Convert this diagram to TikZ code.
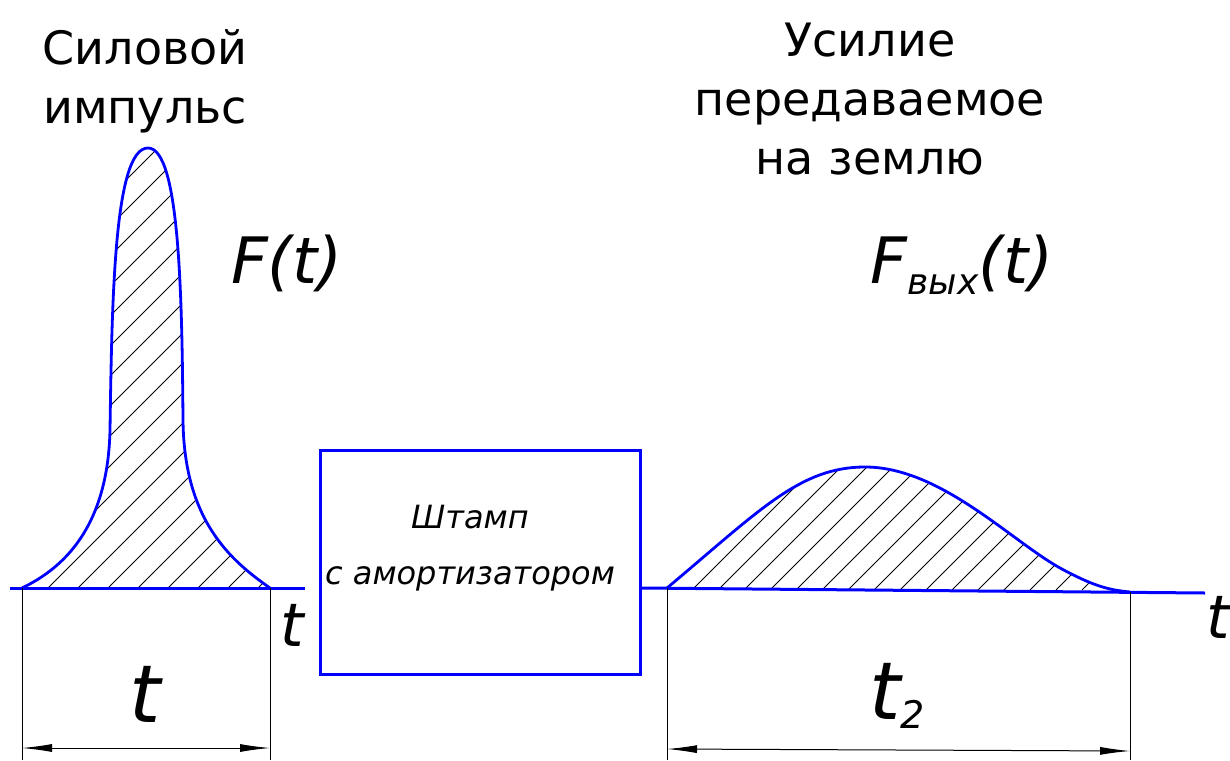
\documentclass[tikz,border=0pt]{standalone}
\usepackage{fontspec}
\setmainfont{DejaVu Sans}
\usetikzlibrary{arrows.meta}

\begin{document}
\begin{tikzpicture}[
  x=0.5pt, y=-0.5pt,
  axisln/.style={draw=blue, line width=1.5pt},
  curve/.style={draw=blue, line width=1.4pt},
  hatch/.style={black, line width=0.4pt},
  extln/.style={black, line width=0.5pt},
  dim/.style={black, line width=0.5pt, {Latex[length=15pt,width=4pt]}-{Latex[length=15pt,width=4pt]}},
  title/.style={font=\fontsize{23}{29.5}\selectfont, align=center, inner sep=0pt},
  var/.style={font=\itshape\fontsize{32}{32}\selectfont, inner sep=0pt},
  tlab/.style={font=\itshape\fontsize{30}{30}\selectfont, inner sep=0pt},
  boxtxt/.style={font=\itshape\fontsize{16}{28}\selectfont, align=center, inner sep=0pt}
]
\useasboundingbox (0,0) rectangle (1230,760);
% ----- input pulse (left) -----
\begin{scope}
  \clip (22,588) .. controls (70,565) and (108,520) .. (110,430)
        .. controls (112,300) and (114,148) .. (148,148)
        .. controls (180,148) and (182,300) .. (183,420)
        .. controls (184,520) and (230,560) .. (270,588) -- cycle;
  \foreach \x in {-432,-402,...,258}{\draw[hatch] (\x,588) -- ++(460,-460);}
\end{scope}
\draw[curve] (22,588) .. controls (70,565) and (108,520) .. (110,430)
      .. controls (112,300) and (114,148) .. (148,148)
      .. controls (180,148) and (182,300) .. (183,420)
      .. controls (184,520) and (230,560) .. (270,588);
\coordinate (a1) at (10,588);
\coordinate (a2) at (305,588);
\draw[axisln] (a1) -- (a2);
\node[tlab] (tax1) at (292,625) {t};
% ----- dimension of the pulse -----
\coordinate (p0) at (22,588);
\coordinate (p1) at (270,588);
\draw[extln] (p0) -- (p0 |- 0,760);
\draw[extln] (p1) -- (p1 |- 0,760);
\draw[dim] (p0 |- 0,748) -- (p1 |- 0,748);
\node[font=\itshape\fontsize{40}{40}\selectfont, inner sep=0pt] (tdim1) at (145,694) {t};
% ----- stamp with shock absorber -----
\node[draw=blue, line width=1.5pt, minimum width=160pt, minimum height=112pt] (stamp) at (480,562) {};
\node[boxtxt] (stamptxt) at (470,548) {Штамп\\с амортизатором};
% ----- output force (right) -----
\begin{scope}
  \clip (667,588) .. controls (760,510) and (800,467) .. (865,467)
        .. controls (940,467) and (1010,540) .. (1060,568)
        .. controls (1095,587) and (1110,590) .. (1130,592) -- cycle;
  \foreach \x in {536,562,...,1134}{\draw[hatch] (\x,590) -- ++(300,-300);}
\end{scope}
\draw[curve] (667,588) .. controls (760,510) and (800,467) .. (865,467)
      .. controls (940,467) and (1010,540) .. (1060,568)
      .. controls (1095,587) and (1110,590) .. (1130,592);
\coordinate (b1) at (640,588);
\coordinate (b2) at (1205,593);
\draw[axisln] (b1) -- (b2);
\node[tlab] (tax2) at (1218,617) {t};
% ----- dimension of the output -----
\coordinate (q0) at (667,588);
\coordinate (q1) at (1130,592);
\draw[extln] (q0) -- (q0 |- 0,760);
\draw[extln] (q1) -- (q1 |- 0,760);
\draw[dim] (q0 |- 0,749) -- (q1 |- 0,751);
\node[font=\itshape\fontsize{40}{40}\selectfont, inner sep=0pt] (tdim2) at (897,696)
  {t{\fontsize{19}{19}\selectfont\raisebox{-0.25em}{2}}};
% ----- titles -----
\node[title] (ttlin) at (145,81) {Силовой\\импульс};
\node[title] (ttlout) at (870,99) {Усилие\\передаваемое\\на землю};
\node[var] (fin) at (287,263) {F(t)};
\node[var] (fout) at (962,265) {F{\fontsize{18}{18}\selectfont\raisebox{-0.3em}{вых}}(t)};
\end{tikzpicture}
\end{document}
